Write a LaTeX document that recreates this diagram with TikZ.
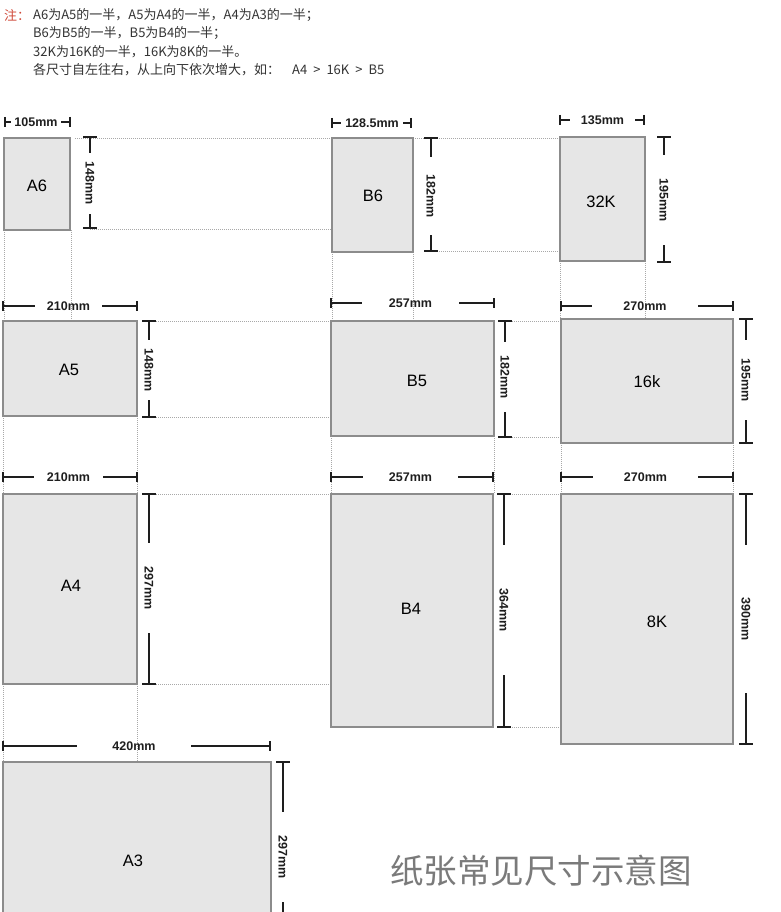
\documentclass[tikz,border=0pt]{standalone}
\usepackage{fontspec}
\setmainfont{Liberation Sans}
\newfontfamily\cjk{Noto Sans CJK SC}
\definecolor{boxfill}{HTML}{E6E6E6}
\definecolor{boxborder}{HTML}{8C8C8C}
\definecolor{dimcol}{HTML}{1E1E1E}
\definecolor{guidecol}{HTML}{A8A8A8}
\definecolor{notecol}{HTML}{333333}
\definecolor{notered}{HTML}{D04A3A}
\definecolor{titlecol}{HTML}{7A7A7A}
\newcommand\hdm[7]{%
  \draw[dimline] (#2,#4-5) -- (#2,#4+5) (#3,#4-5) -- (#3,#4+5)
    (#2,#4) -- (#5,#4) (#6,#4) -- (#3,#4);
  \node[dimtext] (#1) at ({(#5+#6)/2},#4) {#7};}
\newcommand\vdm[7]{%
  \draw[dimline] (#2-7,#3) -- (#2+7,#3) (#2-7,#4) -- (#2+7,#4)
    (#2,#3) -- (#2,#5) (#2,#6) -- (#2,#4);
  \node[vdimtext] (#1) at (#2,{(#5+#6)/2}) {#7};}
\begin{document}
\begin{tikzpicture}[x=1pt,y=-1pt,
  paper/.style={draw=boxborder, fill=boxfill, line width=1.1pt, inner sep=0pt, outer sep=0pt, anchor=north west},
  plabel/.style={font=\fontsize{16.5}{16.5}\selectfont, text=black, inner sep=0pt},
  dimline/.style={draw=dimcol, line width=1.3pt},
  dimtext/.style={font=\bfseries\fontsize{12.5}{13}\selectfont, text=dimcol, inner sep=0pt},
  vdimtext/.style={dimtext, rotate=-90},
  guide/.style={draw=guidecol, line width=0.9pt, dash pattern=on 0.9pt off 1.1pt},
  note/.style={font=\cjk\fontsize{13}{13}\selectfont, anchor=west, inner sep=0pt, text=notecol}]
\useasboundingbox (0,0) rectangle (780,912);
\clip (0,0) rectangle (780,912);
\fill[white] (0,0) rectangle (780,912);

% note
\node[note, text=notered] (n0) at (4,15) {注：};
\node[note] (n1) at (33,15) {A6为A5的一半，A5为A4的一半，A4为A3的一半；};
\node[note] (n2) at (33,33.5) {B6为B5的一半，B5为B4的一半；};
\node[note] (n3) at (33,52) {32K为16K的一半，16K为8K的一半。};
\node[note] (n4) at (33,70) {各尺寸自左往右，从上向下依次增大，如：\hspace{12pt}A4\hspace{6pt}>\hspace{6pt}16K\hspace{6pt}>\hspace{6pt}B5};

% guides (dotted)
\draw[guide] (75,138) -- (331,138) (413,138) -- (560,138);
\draw[guide] (90,229) -- (331,229);
\draw[guide] (435,251) -- (560,251);
\draw[guide] (4,230) -- (4,321) (71,230) -- (71,321);
\draw[guide] (332,252) -- (332,321) (413,252) -- (413,321);
\draw[guide] (560,261) -- (560,319) (645,261) -- (645,319);
\draw[guide] (152,321) -- (331,321) (152,417) -- (331,417);
\draw[guide] (510,321) -- (561,321) (510,437) -- (561,437);
\draw[guide] (3,416) -- (3,494) (137,416) -- (137,494);
\draw[guide] (331,436) -- (331,494) (494,436) -- (494,494);
\draw[guide] (561,443) -- (561,494) (733,443) -- (733,494);
\draw[guide] (152,494) -- (331,494) (152,684) -- (331,684);
\draw[guide] (510,494) -- (561,494) (510,727) -- (561,727);
\draw[guide] (3,684) -- (3,762) (137,684) -- (137,762);

% papers
\node[paper, minimum width=66pt, minimum height=92pt] (A6) at (4,138) {};
\node[paper, minimum width=81pt, minimum height=114pt] (B6) at (332,138) {};
\node[paper, minimum width=85pt, minimum height=124pt] (K32) at (560,137) {};
\node[paper, minimum width=134pt, minimum height=95pt] (A5) at (3,321) {};
\node[paper, minimum width=163pt, minimum height=115pt] (B5) at (331,321) {};
\node[paper, minimum width=172pt, minimum height=124pt] (K16) at (561,319) {};
\node[paper, minimum width=134pt, minimum height=190pt] (A4) at (3,494) {};
\node[paper, minimum width=162pt, minimum height=233pt] (B4) at (331,494) {};
\node[paper, minimum width=172pt, minimum height=250pt] (K8) at (561,494) {};
\node[paper, minimum width=268pt, minimum height=196pt] (A3) at (3,762) {};

\node[plabel] (lA6) at (37,186) {A6};
\node[plabel] (lB6) at (373,196) {B6};
\node[plabel] (lK32) at (601,202) {32K};
\node[plabel] (lA5) at (69,370) {A5};
\node[plabel] (lB5) at (417,381) {B5};
\node[plabel] (lK16) at (647,382) {16k};
\node[plabel] (lA4) at (71,586) {A4};
\node[plabel] (lB4) at (411,609) {B4};
\node[plabel] (lK8) at (657,622) {8K};
\node[plabel] (lA3) at (133,861) {A3};

% horizontal dimensions
\hdm{dA6}{5}{70}{122}{11}{61}{105mm}
\hdm{dB6}{332}{411}{123}{341}{403}{128.5mm}
\hdm{dK32}{560}{644}{120}{570}{635}{135mm}
\hdm{dA5}{3}{137}{306}{35}{102}{210mm}
\hdm{dB5}{331}{494}{303}{362}{459}{257mm}
\hdm{dK16}{561}{733}{306}{592}{698}{270mm}
\hdm{dA4}{3}{137}{477}{34}{103}{210mm}
\hdm{dB4}{331}{493}{477}{363}{458}{257mm}
\hdm{dK8}{561}{733}{477}{593}{698}{270mm}
\hdm{dA3}{3}{270}{746}{77}{191}{420mm}

% vertical dimensions
\vdm{vA6}{90}{137}{228}{153}{214}{148mm}
\vdm{vB6}{431}{138}{251}{157}{235}{182mm}
\vdm{vK32}{664}{137}{262}{155}{245}{195mm}
\vdm{vA5}{149}{321}{417}{340}{400}{148mm}
\vdm{vB5}{505}{321}{437}{342}{412}{182mm}
\vdm{vK16}{746}{319}{443}{340}{420}{195mm}
\vdm{vA4}{149}{494}{684}{543}{633}{297mm}
\vdm{vB4}{504}{494}{727}{545}{675}{364mm}
\vdm{vK8}{746}{494}{744}{545}{693}{390mm}
\vdm{vA3}{283}{762}{960}{812}{902}{297mm}

% title
\node[font=\cjk\fontsize{33.5}{33.5}\selectfont, text=titlecol, inner sep=0pt] (title) at (541,871) {纸张常见尺寸示意图};
\end{tikzpicture}
\end{document}
